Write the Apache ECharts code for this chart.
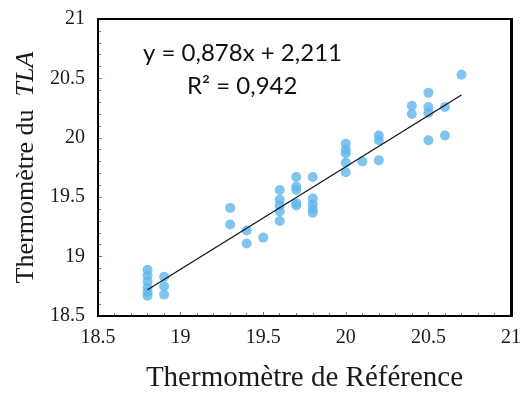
<!DOCTYPE html>
<html>
<head>
<meta charset="utf-8">
<script src="https://cdn.jsdelivr.net/npm/echarts@6/dist/echarts.min.js"></script>
<style>
  html, body { margin: 0; padding: 0; background: #fff; }
  #chart { width: 524px; height: 398px; }
</style>
</head>
<body>
<div id="chart"></div>
<script>
// mesures : x = thermomètre de référence, y = thermomètre du TLA
const refTemps = [
  18.8, 18.8, 18.8, 18.8, 18.8, 18.8,
  18.9, 18.9, 18.9,
  19.3, 19.3,
  19.4, 19.4,
  19.5,
  19.6, 19.6, 19.6, 19.6, 19.6,
  19.7, 19.7, 19.7, 19.7, 19.7,
  19.8, 19.8, 19.8, 19.8, 19.8,
  20.0, 20.0, 20.0, 20.0, 20.0,
  20.1,
  20.2, 20.2, 20.2,
  20.4, 20.4,
  20.5, 20.5, 20.5, 20.5,
  20.6, 20.6,
  20.7
]
const tlaTemps = [
  18.89, 18.84, 18.79, 18.74, 18.70, 18.67,
  18.83, 18.75, 18.68,
  19.41, 19.27,
  19.22, 19.11,
  19.16,
  19.56, 19.48, 19.43, 19.38, 19.30,
  19.67, 19.59, 19.56, 19.45, 19.43,
  19.67, 19.49, 19.44, 19.40, 19.37,
  19.95, 19.90, 19.87, 19.79, 19.71,
  19.80,
  20.02, 19.98, 19.81,
  20.27, 20.20,
  20.38, 20.26, 20.21, 19.98,
  20.26, 20.02,
  20.53
]
// extrémités de la droite de tendance
const trendX = [18.8, 20.7]
const trendY = [18.72, 20.36]
const xTicks = ['18.5', '19', '19.5', '20', '20.5', '21']
const yTicks = ['18.5', '19', '19.5', '20', '20.5', '21']
const equationText = 'y = 0,878x + 2,211'
const r2Text = 'R² = 0,942'

const chart = echarts.init(document.getElementById('chart'))

const axisColor = '#7a62c4'
const serif = '"Liberation Serif", "DejaVu Serif", serif'
const eqFont = '24px Lato, "Open Sans", sans-serif'

const option = {
  animation: false,
  grid: {
    left: 98,
    right: 12,
    top: 19,
    bottom: 82,
    show: true,
    borderColor: '#000',
    borderWidth: 2
  },
  xAxis: {
    type: 'value',
    min: 18.5,
    max: 21,
    interval: 0.5,
    name: 'Thermomètre de Référence',
    nameLocation: 'middle',
    nameGap: 48,
    nameTextStyle: { fontFamily: serif, fontSize: 29, color: '#1a1a1a' },
    axisLine: { show: true, onZero: false, lineStyle: { color: axisColor, width: 1.5 } },
    axisTick: { show: true, inside: true, length: 4, lineStyle: { color: axisColor } },
    minorTick: { show: true, splitNumber: 5, length: 3, lineStyle: { color: axisColor } },
    splitLine: { show: false },
    axisLabel: {
      margin: 12,
      fontFamily: serif,
      fontSize: 20,
      color: '#1a1a1a',
      formatter: (v) => xTicks[Math.round((v - 18.5) / 0.5)]
    }
  },
  yAxis: {
    type: 'value',
    min: 18.5,
    max: 21,
    interval: 0.5,
    name: '{n|Thermomètre du  }{i|TLA}',
    nameLocation: 'middle',
    nameGap: 57,
    nameTextStyle: {
      fontFamily: serif,
      fontSize: 26,
      color: '#1a1a1a',
      rich: {
        n: { fontFamily: serif, fontSize: 26, color: '#1a1a1a' },
        i: { fontFamily: serif, fontSize: 26, fontStyle: 'italic', color: '#1a1a1a' }
      }
    },
    axisLine: { show: true, onZero: false, lineStyle: { color: axisColor, width: 1.5 } },
    axisTick: { show: true, inside: true, length: 4, lineStyle: { color: axisColor } },
    minorTick: { show: true, splitNumber: 5, length: 3, lineStyle: { color: axisColor } },
    splitLine: { show: false },
    axisLabel: {
      margin: 13,
      fontFamily: serif,
      fontSize: 20,
      color: '#1a1a1a',
      formatter: (v) => yTicks[Math.round((v - 18.5) / 0.5)]
    }
  },
  series: [
    {
      type: 'scatter',
      data: refTemps.map((x, i) => [x, tlaTemps[i]]),
      symbol: 'circle',
      symbolSize: 10,
      itemStyle: { color: '#5fb6ef' },
      z: 2
    },
    {
      type: 'line',
      data: trendX.map((x, i) => [x, trendY[i]]),
      symbol: 'none',
      lineStyle: { color: '#111', width: 1.2 },
      z: 3
    }
  ],
  graphic: [
    {
      // cadre du tracé
      type: 'rect',
      z: 100,
      shape: { x: 98, y: 19, width: 414, height: 297 },
      style: { fill: 'none', stroke: '#000', lineWidth: 2 }
    },
    {
      type: 'text',
      left: 143,
      top: 41,
      style: { text: equationText, font: eqFont, fill: '#111' }
    },
    {
      type: 'text',
      left: 187,
      top: 74,
      style: { text: r2Text, font: eqFont, fill: '#111' }
    }
  ]
}

chart.setOption(option)
</script>
</body>
</html>
